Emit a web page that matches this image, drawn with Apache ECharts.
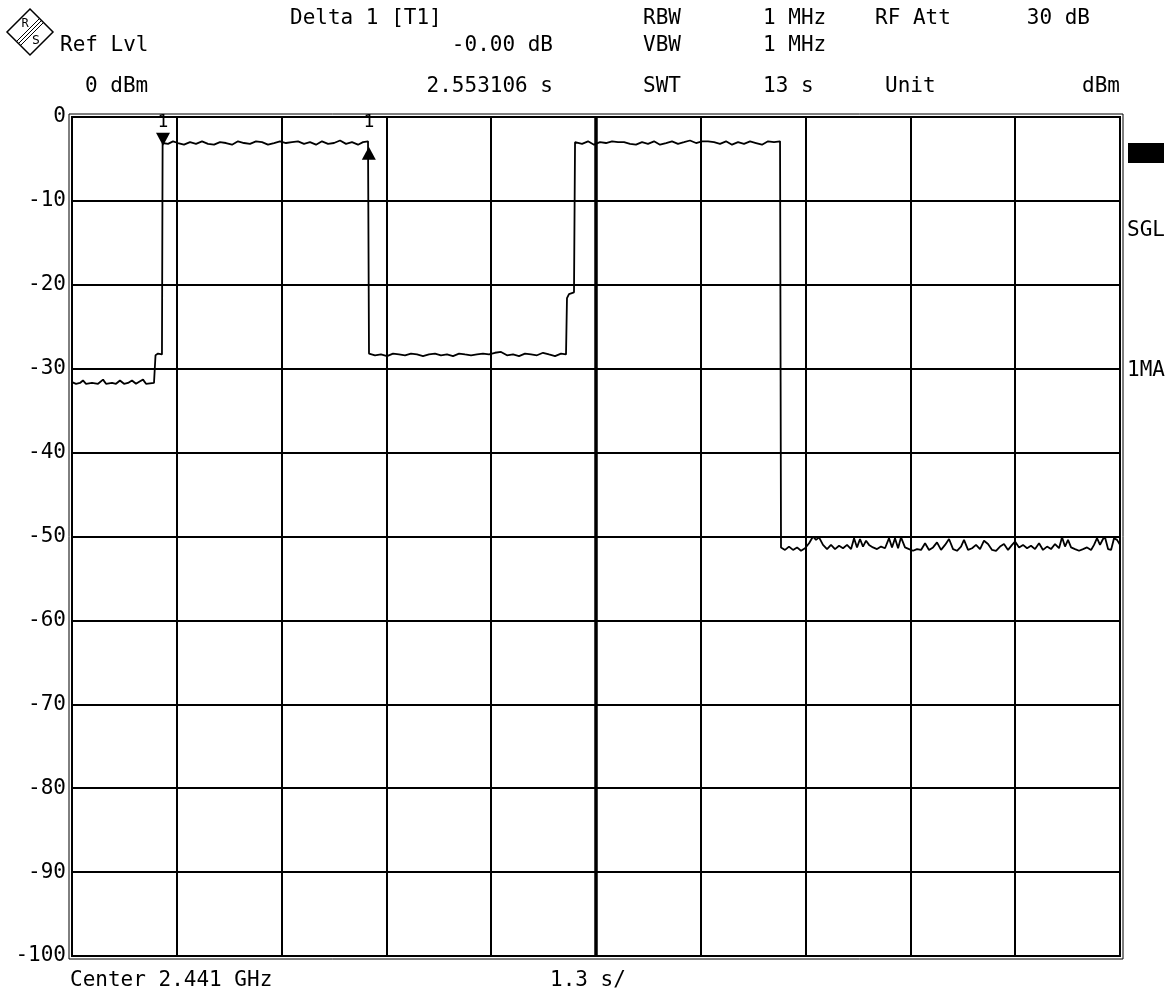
<!DOCTYPE html>
<html>
<head>
<meta charset="utf-8">
<title>Delta 1 [T1]</title>
<script src="https://cdn.jsdelivr.net/npm/echarts@6/dist/echarts.min.js"></script>
<style>
  html, body { margin: 0; padding: 0; background: #fff; }
  #chart { width: 1175px; height: 996px; }
</style>
</head>
<body>
<div id="chart"></div>
<script>
// sweep time (s) and level (dBm)
const startT = [0, 0.050, 0.099, 0.136, 0.174, 0.248, 0.323, 0.385, 0.422, 0.496, 0.546, 0.595, 0.645, 0.695, 0.744, 0.794, 0.844, 0.881, 0.918, 1.017, 1.030, 1.036, 1.067, 1.116, 1.124]
const startDb = [-31.6, -31.8, -31.7, -31.4, -31.8, -31.7, -31.8, -31.3, -31.8, -31.7, -31.8, -31.4, -31.8, -31.7, -31.4, -31.8, -31.5, -31.3, -31.8, -31.7, -31.7, -28.4, -28.2, -28.3, -3.1]

const burst1T = [1.129, 1.191, 1.253, 1.315, 1.389, 1.464, 1.538, 1.613, 1.687, 1.762, 1.836, 1.910, 1.985, 2.059, 2.134, 2.208, 2.282, 2.357, 2.431, 2.506, 2.580, 2.655, 2.729, 2.804, 2.878, 2.952, 3.027, 3.101, 3.176, 3.250, 3.325, 3.399, 3.473, 3.548, 3.610, 3.672]
const burst1Db = [-3.0, -3.2, -2.9, -3.1, -3.3, -3.0, -3.2, -2.9, -3.2, -3.3, -3.0, -3.1, -3.3, -2.9, -3.1, -3.2, -2.9, -3.0, -3.3, -3.1, -2.9, -3.1, -3.0, -2.9, -3.2, -3.0, -3.3, -2.9, -3.2, -3.1, -2.8, -3.2, -3.0, -3.3, -3.0, -2.9]

const midT = [3.684, 3.759, 3.833, 3.908, 3.982, 4.056, 4.131, 4.205, 4.280, 4.354, 4.428, 4.503, 4.577, 4.652, 4.726, 4.801, 4.875, 4.950, 5.024, 5.098, 5.173, 5.247, 5.322, 5.396, 5.471, 5.545, 5.619, 5.694, 5.768, 5.843, 5.917, 5.992, 6.066, 6.128, 6.140, 6.165, 6.227]
const midDb = [-28.2, -28.4, -28.3, -28.5, -28.2, -28.3, -28.4, -28.2, -28.3, -28.5, -28.3, -28.2, -28.4, -28.3, -28.5, -28.2, -28.3, -28.4, -28.3, -28.2, -28.3, -28.1, -28.0, -28.4, -28.3, -28.5, -28.2, -28.3, -28.4, -28.1, -28.3, -28.5, -28.2, -28.3, -21.6, -21.1, -20.9]

const burst2T = [6.240, 6.252, 6.327, 6.401, 6.475, 6.550, 6.624, 6.699, 6.773, 6.848, 6.922, 6.996, 7.071, 7.145, 7.220, 7.294, 7.369, 7.443, 7.517, 7.592, 7.666, 7.741, 7.815, 7.890, 7.964, 8.038, 8.113, 8.187, 8.262, 8.336, 8.411, 8.485, 8.559, 8.634, 8.708, 8.783]
const burst2Db = [-3.0, -2.9, -3.2, -2.9, -3.3, -3.0, -3.1, -2.9, -3.0, -3.0, -3.2, -3.3, -3.0, -3.2, -2.9, -3.3, -3.1, -2.9, -3.2, -3.0, -2.8, -3.1, -2.9, -2.9, -3.0, -3.2, -2.9, -3.3, -3.0, -3.2, -2.9, -3.1, -3.3, -2.9, -3.0, -2.9]

const floorT = [8.795, 8.845, 8.894, 8.944, 8.994, 9.043, 9.093, 9.143, 9.192, 9.229, 9.267, 9.316, 9.366, 9.415, 9.465, 9.515, 9.564, 9.614, 9.664, 9.701, 9.738, 9.775, 9.812, 9.850, 9.887, 9.936, 9.986, 10.036, 10.085, 10.135, 10.172, 10.209, 10.247, 10.284, 10.333, 10.383, 10.433, 10.482, 10.532, 10.582, 10.631, 10.681, 10.730, 10.780, 10.830, 10.879, 10.929, 10.978, 11.028, 11.065, 11.115, 11.165, 11.214, 11.264, 11.313, 11.363, 11.413, 11.462, 11.512, 11.561, 11.611, 11.661, 11.698, 11.748, 11.797, 11.847, 11.896, 11.946, 11.996, 12.045, 12.095, 12.144, 12.194, 12.244, 12.281, 12.318, 12.355, 12.393, 12.442, 12.492, 12.542, 12.591, 12.641, 12.678, 12.715, 12.752, 12.789, 12.814, 12.852, 12.889, 12.926, 12.963, 13.000]
const floorDb = [-51.3, -51.6, -51.2, -51.6, -51.3, -51.7, -51.4, -50.8, -50.0, -50.4, -50.1, -51.0, -51.5, -51.0, -51.5, -51.1, -51.4, -51.0, -51.5, -50.2, -51.3, -50.3, -51.2, -50.5, -51.0, -51.3, -51.5, -51.2, -51.4, -50.2, -51.3, -50.2, -51.4, -50.1, -51.3, -51.5, -51.7, -51.5, -51.6, -50.8, -51.6, -51.3, -50.7, -51.6, -51.0, -50.3, -51.5, -51.7, -51.2, -50.4, -51.6, -51.4, -51.0, -51.5, -50.5, -50.9, -51.6, -51.7, -51.2, -50.9, -51.6, -51.0, -50.6, -51.3, -51.0, -51.4, -51.1, -51.5, -50.8, -51.6, -51.2, -51.5, -50.9, -51.4, -50.1, -51.2, -50.4, -51.3, -51.5, -51.7, -51.5, -51.3, -51.6, -51.0, -50.2, -51.0, -50.3, -50.1, -51.5, -51.6, -50.2, -50.4, -51.0]

// marker 1 and delta marker
const markerT = [1.129, 3.682]
const markerDb = [-3.0, -3.0]

const yTicks = [0, -10, -20, -30, -40, -50, -60, -70, -80, -90, -100]

const FONT = '"DejaVu Sans Mono", monospace'

function pairs(t, v) {
    return t.map((x, i) => [x, v[i]])
}

const trace = []
    .concat(pairs(startT, startDb))
    .concat(pairs(burst1T, burst1Db))
    .concat(pairs(midT, midDb))
    .concat(pairs(burst2T, burst2Db))
    .concat(pairs(floorT, floorDb))

function txt(text, x, y, align, size) {
    return {
        type: "text",
        x: x,
        y: y,
        style: {
            text: text,
            font: (size || 21) + "px " + FONT,
            fill: "#000",
            align: align || "left",
            verticalAlign: "middle",
        },
    }
}

const chart = echarts.init(document.getElementById("chart"))

const option = {
    animation: false,
    backgroundColor: "#fff",
    grid: {
        left: 72,
        top: 117,
        width: 1048,
        height: 839,
        show: true,
        borderColor: "#000",
        borderWidth: 2,
    },
    xAxis: {
        type: "value",
        min: 0,
        max: 13,
        interval: 1.3,
        axisLine: { show: false },
        axisTick: { show: false },
        axisLabel: { show: false },
        splitLine: { show: true, lineStyle: { color: "#000", width: 2 } },
    },
    yAxis: {
        type: "value",
        min: -100,
        max: 0,
        interval: 10,
        axisLine: { show: false },
        axisTick: { show: false },
        axisLabel: {
            color: "#000",
            fontFamily: FONT,
            fontSize: 21,
            margin: 6,
            formatter: (v) => (yTicks.indexOf(v) >= 0 ? String(v) : ""),
        },
        splitLine: { show: true, lineStyle: { color: "#000", width: 2 } },
    },
    series: [
        {
            type: "line",
            data: trace,
            showSymbol: false,
            lineStyle: { color: "#000", width: 1.8 },
            markLine: {
                silent: true,
                symbol: "none",
                label: { show: false },
                lineStyle: { color: "#000", width: 3.5, type: "solid" },
                data: [{ xAxis: 6.5 }],
            },
        },
        {
            type: "scatter",
            data: [
                {
                    value: [markerT[0], markerDb[0]],
                    symbol: "triangle",
                    symbolRotate: 180,
                    symbolSize: [14, 13],
                    symbolOffset: [0, -3],
                },
                {
                    value: [markerT[1], markerDb[1]],
                    symbol: "triangle",
                    symbolSize: [14, 13],
                    symbolOffset: [0, 11],
                },
            ],
            itemStyle: { color: "#000", opacity: 1 },
        },
        {
            type: "scatter",
            data: markerT.map((t) => [t, -0.6]),
            symbolSize: 0,
            itemStyle: { opacity: 1 },
            label: {
                show: true,
                position: "inside",
                formatter: "1",
                color: "#000",
                fontFamily: FONT,
                fontSize: 18,
            },
        },
    ],
    graphic: [
        // outer frame line of the double border
        {
            type: "rect",
            shape: { x: 69, y: 114, width: 1054, height: 845 },
            style: { fill: null, stroke: "#000", lineWidth: 1 },
            silent: true,
        },
        // R&S logo
        {
            type: "polygon",
            shape: { points: [[30, 9], [53, 32], [30, 55], [7, 32]] },
            style: { fill: "#fff", stroke: "#000", lineWidth: 1.5 },
        },
        { type: "line", shape: { x1: 41.5, y1: 20.5, x2: 18.5, y2: 43.5 }, style: { stroke: "#000", lineWidth: 1 } },
        { type: "line", shape: { x1: 43.5, y1: 22.5, x2: 20.5, y2: 45.5 }, style: { stroke: "#000", lineWidth: 1 } },
        { type: "line", shape: { x1: 39.5, y1: 18.5, x2: 16.5, y2: 41.5 }, style: { stroke: "#000", lineWidth: 1 } },
        txt("R", 25, 24, "center", 12),
        txt("S", 36, 41, "center", 13),
        // header
        txt("Delta 1 [T1]", 290, 19),
        txt("Ref Lvl", 60, 46),
        txt("-0.00 dB", 553, 46, "right"),
        txt("0 dBm", 85, 87),
        txt("2.553106 s", 553, 87, "right"),
        txt("RBW", 643, 19),
        txt("1 MHz", 763, 19),
        txt("RF Att", 875, 19),
        txt("30 dB", 1090, 19, "right"),
        txt("VBW", 643, 46),
        txt("1 MHz", 763, 46),
        txt("SWT", 643, 87),
        txt("13 s", 763, 87),
        txt("Unit", 885, 87),
        txt("dBm", 1120, 87, "right"),
        // side annotations
        {
            type: "rect",
            shape: { x: 1128, y: 143, width: 36, height: 20 },
            style: { fill: "#000" },
        },
        txt("SGL", 1127, 231),
        txt("1MA", 1127, 371),
        // footer
        txt("Center 2.441 GHz", 70, 981),
        txt("1.3 s/", 550, 981),
    ],
}

chart.setOption(option)
</script>
</body>
</html>
